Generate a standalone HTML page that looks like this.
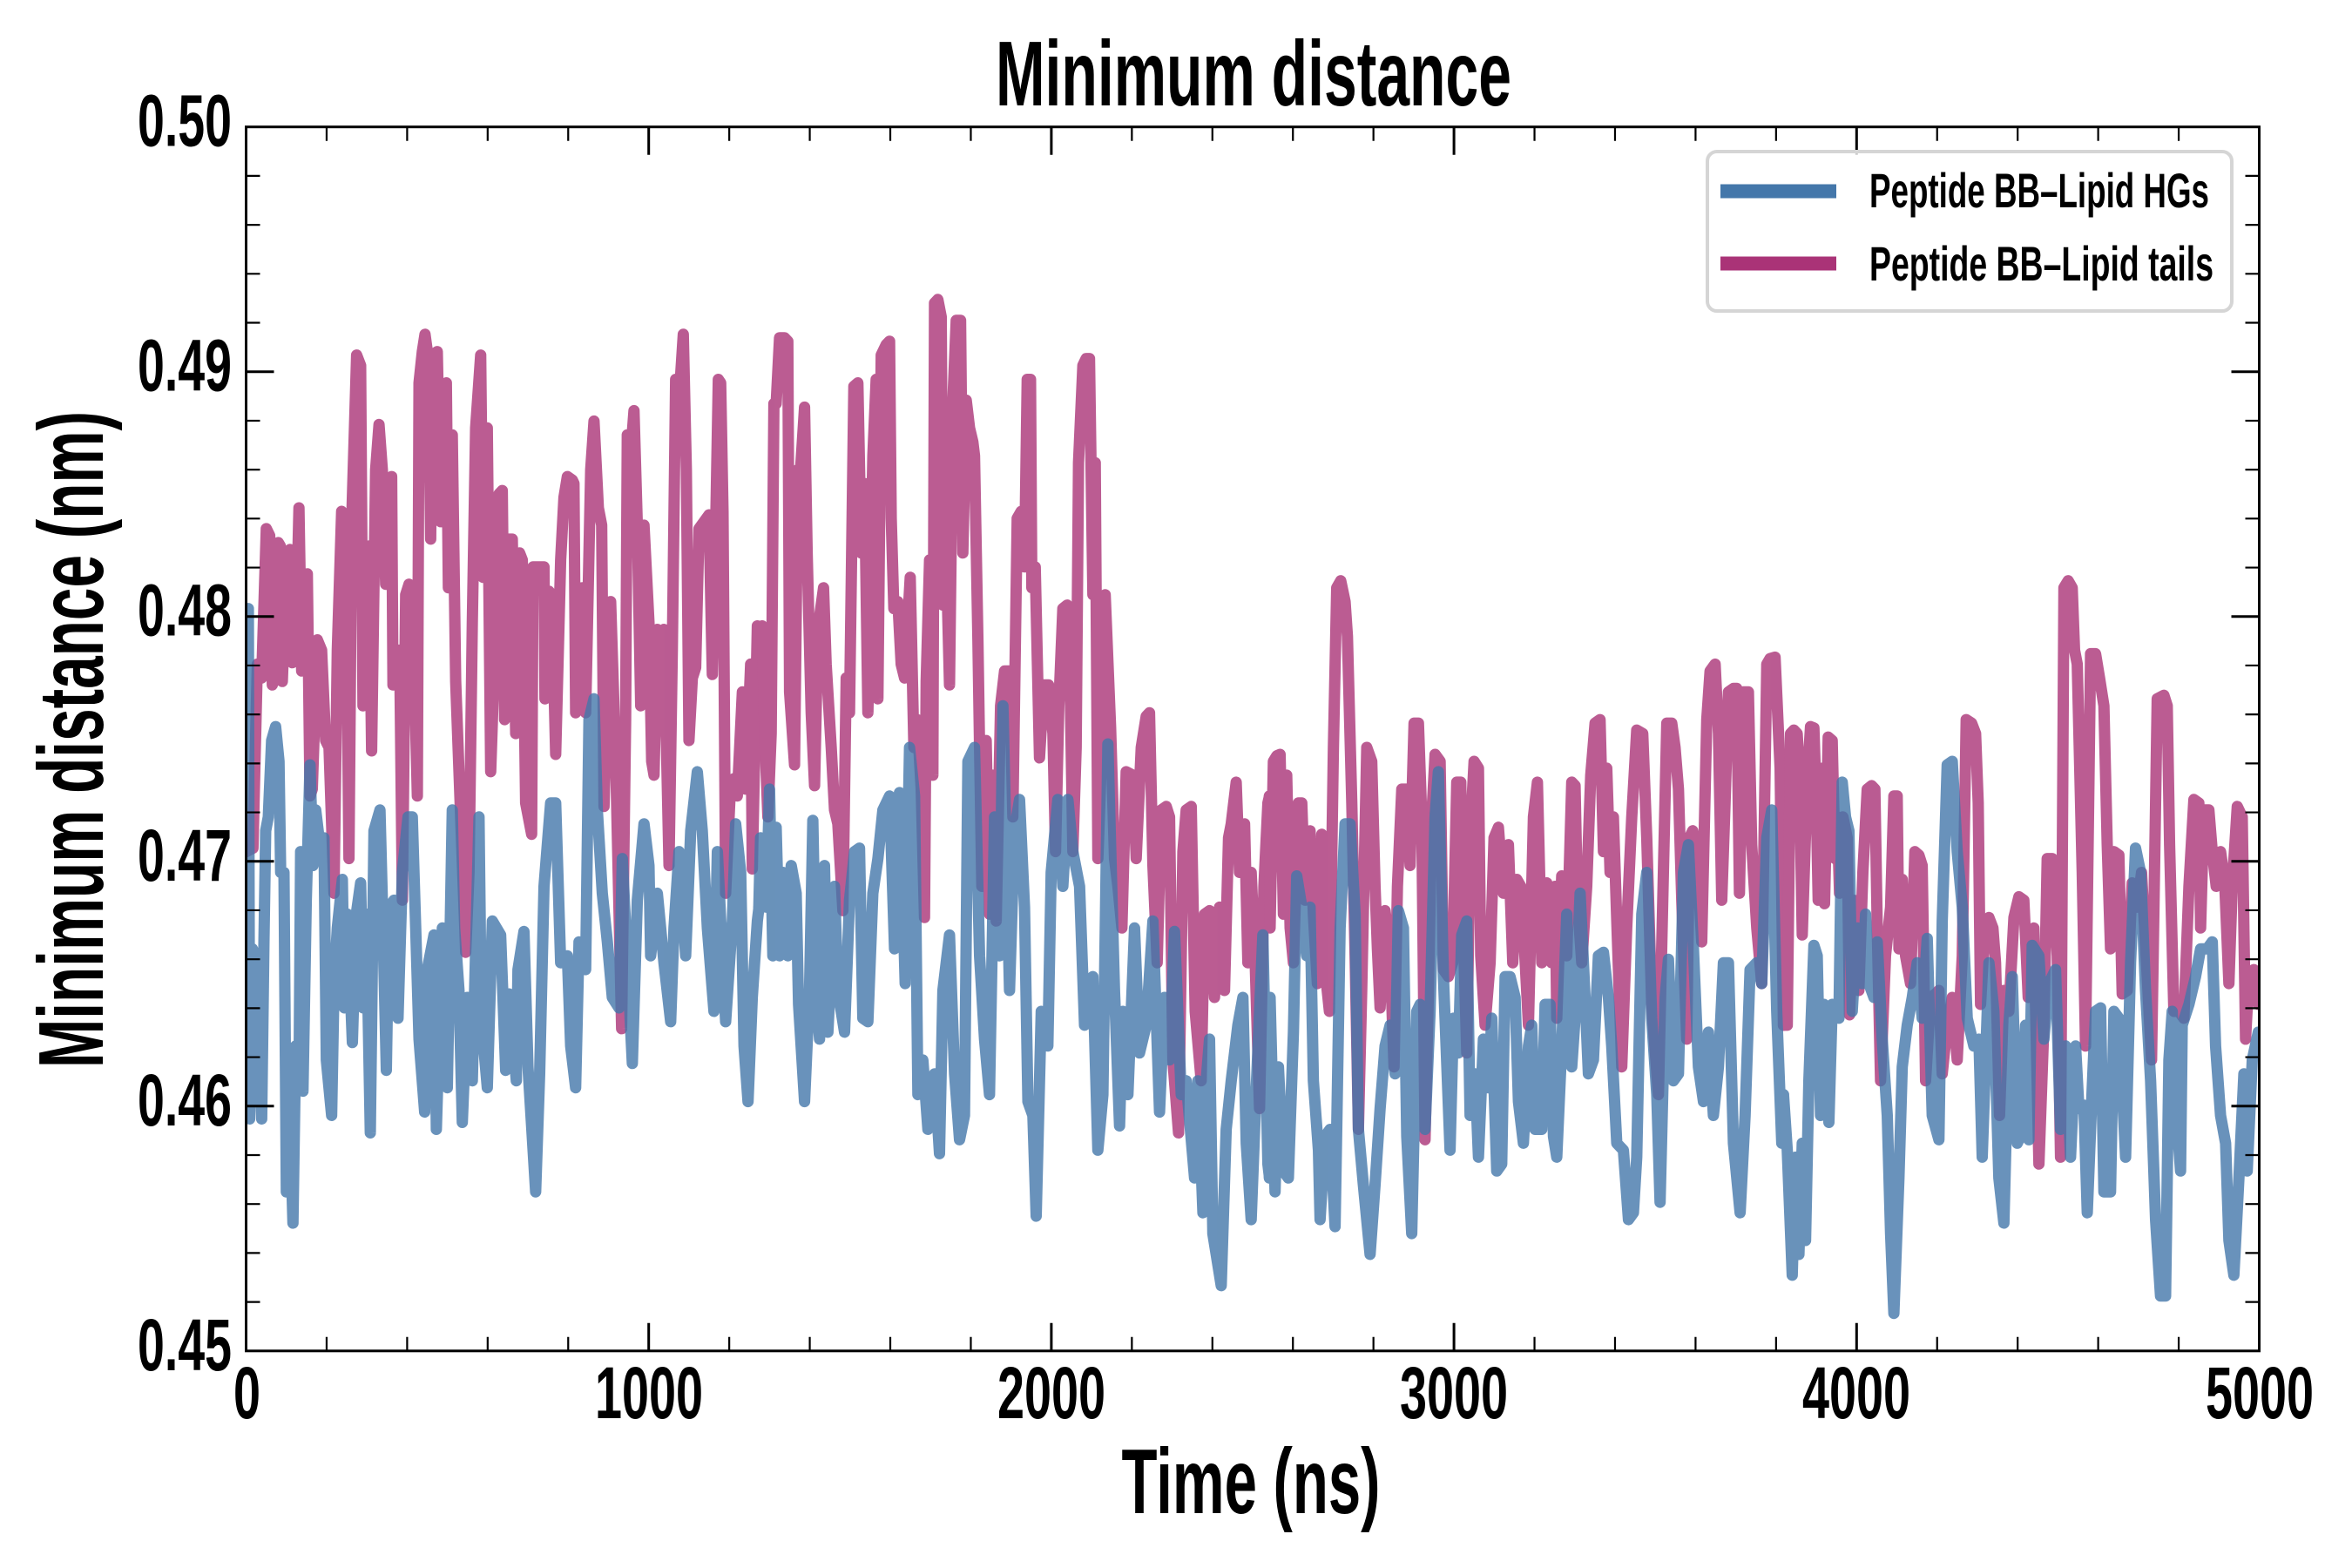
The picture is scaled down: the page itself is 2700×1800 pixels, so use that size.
<!DOCTYPE html>
<html>
<head>
<meta charset="utf-8">
<style>
html,body{margin:0;padding:0;background:#fff;}
svg{display:block;}
text{font-family:"Liberation Sans","DejaVu Sans",sans-serif;font-weight:bold;fill:#000;}
.pl{fill:none;stroke-width:13;stroke-linejoin:round;stroke-linecap:round;}
</style>
</head>
<body>
<svg id="chart" width="2700" height="1800" viewBox="0 0 2700 1800" xmlns="http://www.w3.org/2000/svg">
<rect x="0" y="0" width="2700" height="1800" fill="#fff"/>
<defs>
<clipPath id="ax"><rect x="282.5" y="145.7" width="2311" height="1405.1"/></clipPath>
</defs>

<g clip-path="url(#ax)">
<!-- Pink: Peptide BB-Lipid tails -->
<g opacity="0.8">
<g transform="translate(282,300) scale(0.38266,0.79719)">
<polyline class="pl" vector-effect="non-scaling-stroke" stroke="#AA3377" points="2,850 22,845 35,580 48,600 62,385 72,395 80,610 90,590 98,405 104,410 110,605 120,470 133,415 140,578 150,560 160,355 168,590 178,520 185,450 193,770 200,760 215,545 228,560 240,690 250,700 265,910 275,560 288,360 300,380 310,860 318,375 333,135 345,150 352,640 362,460 370,410 378,705 390,300 400,235 410,300 420,465 430,320 438,310 442,610 452,560 462,560 470,920 480,480 490,465 500,470 515,770 520,175 530,130 538,105 548,140 555,400 560,135 575,130 585,375 595,180 602,175 608,470 620,250 630,605 645,800 660,995 670,880 680,520 690,240 705,135 712,455 725,240 735,735 750,520 760,335 770,330 777,660 790,400 800,400 810,680 822,420 830,430 840,780 858,825 862,440 880,440 895,440 898,630 910,475 918,480 930,710 945,430 955,340 965,310 980,315 985,320 990,650 1000,500 1010,470 1020,650 1035,300 1045,230 1058,355 1068,380 1075,785 1085,590 1095,490 1110,720 1128,1105 1140,660 1145,250 1158,260 1165,215 1175,380 1185,640 1195,380 1210,520 1218,720 1225,740 1235,530 1245,560 1255,530 1270,870 1280,560 1290,170 1300,200 1313,105 1322,300 1330,690 1340,600 1350,585 1360,385 1375,375 1390,365 1400,595 1410,380 1418,170 1425,175 1432,360 1440,910 1455,750 1465,745 1475,770 1490,620 1500,760 1515,580 1520,875 1535,525 1540,530"/>
</g>
<g transform="translate(870,300) scale(0.38266,0.79719)">
<polyline class="pl" vector-effect="non-scaling-stroke" stroke="#AA3377" points="3,530 13,525 22,700 30,800 40,680 48,205 55,205 65,110 80,110 90,115 95,620 110,725 120,300 128,300 140,210 148,420 160,650 170,755 180,530 197,470 205,580 220,700 230,790 240,810 255,935 265,600 275,650 288,180 300,175 310,420 320,320 330,650 345,280 355,170 360,630 370,135 385,120 395,115 400,370 408,500 420,490 430,580 440,600 457,455 468,700 478,660 490,760 500,945 505,605 515,430 525,740 530,60 540,55 550,80 555,495 565,420 575,610 585,200 595,85 608,85 615,420 625,200 635,240 645,260 650,280 660,545 665,700 672,900 685,690 695,940 705,740 715,950 728,640 740,590 755,590 765,800 778,370 790,360 800,440 808,170 818,170 822,470 832,440 845,715 858,610 872,610 885,680 893,850 903,640 915,500 928,495 937,620 945,850 955,700 962,290 975,150 985,140 995,140 1005,480 1012,290 1020,860 1032,700 1042,480 1058,670 1070,860 1080,900 1092,960 1105,735 1125,740 1135,860 1150,700 1165,655 1175,650 1185,870 1198,1010 1210,790 1225,785 1235,800 1245,1150 1262,1255 1275,850 1285,790 1300,785 1312,1080 1330,1180 1340,940 1355,935 1370,1060 1385,930 1400,1050 1412,830 1420,810 1435,750 1445,880 1460,810 1470,1010 1480,880 1492,1010 1505,1220 1518,900 1530,780 1535,770"/>
</g>
<g transform="translate(1458,300) scale(0.38266,0.79719)">
<polyline class="pl" vector-effect="non-scaling-stroke" stroke="#AA3377" points="-2,770 0,960 10,720 20,712 30,710 40,940 50,740 60,960 70,1010 85,780 95,780 105,920 120,820 130,940 142,1040 155,825 165,1020 178,1080 190,700 200,470 212,460 225,490 232,540 245,780 255,1000 265,1250 275,1050 290,700 305,720 315,900 322,990 330,1075 345,935 360,1000 372,1160 382,900 395,760 410,760 420,870 432,665 445,665 455,800 465,1265 475,1050 485,800 495,710 510,720 520,1020 535,1030 548,1010 560,750 572,750 578,940 590,1140 600,830 612,720 625,730 632,1000 645,1100 660,1010 672,830 685,815 700,910 715,840 728,1010 740,890 752,900 760,960 775,1100 790,800 802,750 815,1010 830,895 845,1010 855,900 860,1090 875,885 890,1000 905,750 915,755 922,920 935,1010 950,900 962,740 975,665 990,660 1000,850 1010,730 1020,880 1030,800 1040,950 1055,1160 1070,960 1085,800 1100,675 1118,680 1130,830 1145,1070 1165,1200 1180,880 1190,665 1205,665 1215,700 1225,760 1235,920 1250,1120 1258,830 1268,820 1280,850 1295,980 1310,660 1320,590 1335,580 1345,680 1355,920 1365,780 1375,620 1390,615 1400,615 1408,910 1420,620 1435,620 1445,840 1460,960 1475,1040 1490,580 1500,572 1515,570 1530,730 1540,1100"/>
</g>
<g transform="translate(2000,300) scale(0.38266,0.79719)">
<polyline class="pl" vector-effect="non-scaling-stroke" stroke="#AA3377" points="124,1100 135,1100 145,680 155,675 165,680 172,740 180,970 195,750 205,670 215,672 222,780 228,920 240,730 247,925 258,685 270,690 278,860 285,800 292,910 302,800 315,830 322,1085 335,920 350,1050 362,880 375,760 388,755 398,760 405,960 415,1180 430,1000 445,930 455,770 465,770 470,990 480,890 490,1000 505,1040 518,850 530,855 540,870 550,1180 565,1060 580,1055 590,1050 600,1170 615,1100 630,1060 645,1150 660,1000 672,660 688,665 700,680 708,780 715,1070 728,960 740,945 752,960 760,1010 772,1230 785,1050 800,1080 815,945 830,915 845,920 858,1060 875,960 890,1300 905,1100 915,860 930,860 945,1000 955,1290 965,470 978,460 990,470 997,560 1005,580 1020,880 1030,1130 1045,565 1060,565 1072,600 1085,640 1095,840 1105,990 1115,850 1130,855 1140,1055 1155,1050 1170,895 1185,930 1198,880 1215,1030 1228,1150 1245,630 1265,625 1275,640 1282,840 1295,1080 1310,1080 1325,1090 1340,900 1355,775 1370,780 1375,960 1385,790 1400,790 1410,850 1422,900 1435,850 1447,890 1460,1040 1470,900 1485,785 1500,800 1510,1120 1520,1030 1535,1020 1548,1070"/>
</g>
</g>

<!-- Blue: Peptide BB-Lipid HGs -->
<g opacity="0.8">
<g transform="translate(282,300) scale(0.38266,0.79719)">
<polyline class="pl" vector-effect="non-scaling-stroke" stroke="#4477AA" points="1,500 8,500 12,1235 20,990 30,1000 48,1235 55,980 60,820 68,800 78,690 90,670 100,720 105,880 115,880 122,1340 132,1220 142,1385 150,1130 160,1190 165,850 172,1195 182,920 193,725 202,870 210,790 220,830 235,830 242,1150 258,1230 265,1045 275,960 290,890 296,1075 305,940 320,1125 332,940 345,895 352,1075 362,940 374,1255 385,820 403,790 410,920 422,1165 430,930 445,920 457,1090 470,880 487,800 500,800 510,960 520,1120 537,1225 545,1020 565,970 572,1250 590,960 605,1190 620,790 627,960 640,1050 650,1240 665,1060 680,1180 700,800 707,1090 725,1190 740,950 765,970 780,1165 790,1055 812,1180 817,1020 835,965 847,1160 870,1340 882,1170 895,900 915,780 930,780 945,1010 965,1000 975,1130 990,1190 1000,980 1020,1020 1030,660 1045,630 1055,790 1070,910 1085,980 1100,1060 1120,1075 1130,860 1160,1155 1175,920 1195,810 1210,870 1215,1000 1235,910 1255,1010 1275,1095 1285,960 1300,850 1320,1000 1335,820 1355,735 1370,820 1385,960 1405,1080 1415,850 1440,1095 1460,950 1470,810 1485,880 1495,1130 1507,1210 1520,1060 1535,950 1540,930"/>
</g>
<g transform="translate(870,300) scale(0.38266,0.79719)">
<polyline class="pl" vector-effect="non-scaling-stroke" stroke="#4477AA" points="3,930 8,830 25,930 35,760 45,1000 55,815 65,1000 75,880 90,1000 100,870 115,910 122,1070 140,1210 155,1050 165,805 175,1060 185,1120 200,870 210,1110 220,1010 230,900 240,1050 260,1110 275,920 290,850 305,845 315,1090 330,1095 345,910 360,860 375,790 395,770 410,990 425,765 432,870 442,1040 455,700 470,770 480,1200 495,1150 510,1250 530,1170 545,1285 555,1050 575,970 590,1170 605,1265 620,1230 630,720 650,700 665,1000 680,1120 695,1200 710,800 725,1000 735,640 745,850 755,1050 770,820 785,775 800,930 810,1210 825,1230 835,1375 850,1080 870,1130 880,880 900,775 915,900 930,775 945,850 965,900 980,1100 1005,1030 1020,1280 1035,1200 1050,695 1070,1050 1085,1245 1095,1080 1110,1200 1130,960 1145,1140 1165,1100 1185,950 1205,1225 1220,1060 1235,1150 1250,965 1270,1200 1285,1180 1310,1320 1320,1180 1335,1370 1345,1180 1355,1120 1365,1400 1390,1475 1405,1250 1420,1180 1440,1100 1455,1060 1465,1270 1480,1380 1495,1190 1515,970 1530,1300 1535,1320"/>
</g>
<g transform="translate(1458,300) scale(0.38266,0.79719)">
<polyline class="pl" vector-effect="non-scaling-stroke" stroke="#4477AA" points="-2,1320 0,1060 15,1340 25,1160 40,1310 55,1320 70,1110 80,885 95,930 110,1000 120,930 130,1180 145,1280 150,1380 165,1260 180,1250 195,1390 210,960 225,810 240,810 255,940 265,1250 280,1330 300,1430 315,1330 330,1220 345,1130 360,1100 375,1170 385,935 400,960 410,1260 425,1400 440,1080 450,1070 465,1250 480,1080 495,800 505,735 520,1030 540,1280 550,1090 565,1140 575,970 590,950 600,1230 615,1170 625,1290 640,1120 655,1190 665,1090 680,1310 695,1300 705,1030 720,1030 735,1060 745,1210 760,1270 775,1130 785,1100 795,1250 815,1250 825,1070 840,1070 850,1260 860,1290 875,1130 890,940 905,1160 915,1090 930,910 945,1060 955,1170 970,1150 985,1000 1000,995 1015,1060 1025,1130 1040,1270 1060,1280 1075,1380 1090,1370 1100,1290 1115,940 1130,880 1145,1090 1160,1200 1170,1355 1185,1060 1195,1005 1210,1180 1225,1170 1240,880 1255,840 1270,990 1285,1160 1300,1210 1315,1110 1330,1230 1345,1160 1360,1010 1375,1010 1390,1270 1410,1370 1425,1230 1440,1020 1460,1010 1475,1040 1490,830 1505,790 1520,1080 1535,1270 1540,1200"/>
</g>
<g transform="translate(2000,300) scale(0.38266,0.79719)">
<polyline class="pl" vector-effect="non-scaling-stroke" stroke="#4477AA" points="124,1200 135,1280 150,1460 160,1290 170,1430 180,1270 190,1410 200,1180 215,985 225,1000 235,1230 245,1070 260,1240 270,1070 290,1090 300,750 310,800 320,820 330,1080 345,960 360,1040 370,940 380,1040 395,1060 405,980 420,1120 435,1230 445,1400 455,1515 470,1320 480,1160 495,1100 510,1060 525,1010 540,1090 555,975 570,1230 590,1265 600,950 615,725 630,720 645,850 660,930 675,1090 695,1130 710,1120 720,1290 740,1010 755,1080 770,1320 785,1385 800,1100 810,1030 825,1270 835,1260 850,1100 860,1265 870,985 890,1000 905,1120 920,1040 940,1020 955,1250 970,1130 985,1290 1000,1130 1010,1220 1025,1215 1035,1370 1050,1190 1060,1080 1075,1075 1085,1340 1105,1340 1115,1080 1130,1090 1150,1290 1165,1010 1180,845 1195,880 1210,1050 1225,1180 1240,1380 1255,1490 1270,1490 1280,1150 1290,1080 1300,1210 1315,1310 1320,1100 1340,1070 1360,1030 1375,990 1395,990 1410,980 1420,1130 1435,1230 1450,1270 1460,1410 1475,1460 1490,1320 1505,1170 1515,1310 1530,1150 1548,1110"/>
</g>
</g>
</g>

<!-- Minor ticks -->
<path fill="none" stroke="#000" stroke-width="2.2" d="
M374.94 1550.8v-16M467.38 1550.8v-16M559.82 1550.8v-16M652.26 1550.8v-16M837.14 1550.8v-16M929.58 1550.8v-16M1022.02 1550.8v-16M1114.46 1550.8v-16M1299.34 1550.8v-16M1391.78 1550.8v-16M1484.22 1550.8v-16M1576.66 1550.8v-16M1761.54 1550.8v-16M1853.98 1550.8v-16M1946.42 1550.8v-16M2038.86 1550.8v-16M2223.74 1550.8v-16M2316.18 1550.8v-16M2408.62 1550.8v-16M2501.06 1550.8v-16
M374.94 145.7v16M467.38 145.7v16M559.82 145.7v16M652.26 145.7v16M837.14 145.7v16M929.58 145.7v16M1022.02 145.7v16M1114.46 145.7v16M1299.34 145.7v16M1391.78 145.7v16M1484.22 145.7v16M1576.66 145.7v16M1761.54 145.7v16M1853.98 145.7v16M1946.42 145.7v16M2038.86 145.7v16M2223.74 145.7v16M2316.18 145.7v16M2408.62 145.7v16M2501.06 145.7v16
M282.5 1494.6h16M282.5 1438.39h16M282.5 1382.19h16M282.5 1325.98h16M282.5 1213.58h16M282.5 1157.37h16M282.5 1101.17h16M282.5 1044.96h16M282.5 932.56h16M282.5 876.35h16M282.5 820.15h16M282.5 763.94h16M282.5 651.54h16M282.5 595.33h16M282.5 539.13h16M282.5 482.92h16M282.5 370.52h16M282.5 314.31h16M282.5 258.11h16M282.5 201.9h16
M2593.5 1494.6h-16M2593.5 1438.39h-16M2593.5 1382.19h-16M2593.5 1325.98h-16M2593.5 1213.58h-16M2593.5 1157.37h-16M2593.5 1101.17h-16M2593.5 1044.96h-16M2593.5 932.56h-16M2593.5 876.35h-16M2593.5 820.15h-16M2593.5 763.94h-16M2593.5 651.54h-16M2593.5 595.33h-16M2593.5 539.13h-16M2593.5 482.92h-16M2593.5 370.52h-16M2593.5 314.31h-16M2593.5 258.11h-16M2593.5 201.9h-16"/>

<!-- Major ticks -->
<path fill="none" stroke="#000" stroke-width="3" d="
M744.7 1550.8v-32M1206.9 1550.8v-32M1669.1 1550.8v-32M2131.3 1550.8v-32
M744.7 145.7v32M1206.9 145.7v32M1669.1 145.7v32M2131.3 145.7v32
M282.5 1269.78h32M282.5 988.76h32M282.5 707.74h32M282.5 426.72h32
M2593.5 1269.78h-32M2593.5 988.76h-32M2593.5 707.74h-32M2593.5 426.72h-32"/>

<!-- Spines -->
<rect x="282.5" y="145.7" width="2311" height="1405.1" fill="none" stroke="#000" stroke-width="3"/>

<!-- Y tick labels -->
<g font-size="84" text-anchor="end">
<text x="266" y="1572.8" textLength="108" lengthAdjust="spacingAndGlyphs">0.45</text>
<text x="266" y="1291.8" textLength="108" lengthAdjust="spacingAndGlyphs">0.46</text>
<text x="266" y="1010.8" textLength="108" lengthAdjust="spacingAndGlyphs">0.47</text>
<text x="266" y="729.7" textLength="108" lengthAdjust="spacingAndGlyphs">0.48</text>
<text x="266" y="448.7" textLength="108" lengthAdjust="spacingAndGlyphs">0.49</text>
<text x="266" y="167.7" textLength="108" lengthAdjust="spacingAndGlyphs">0.50</text>
</g>

<!-- X tick labels -->
<g font-size="84" text-anchor="middle">
<text x="283.5" y="1628" textLength="31" lengthAdjust="spacingAndGlyphs">0</text>
<text x="745" y="1628" textLength="124" lengthAdjust="spacingAndGlyphs">1000</text>
<text x="1207" y="1628" textLength="124" lengthAdjust="spacingAndGlyphs">2000</text>
<text x="1669" y="1628" textLength="124" lengthAdjust="spacingAndGlyphs">3000</text>
<text x="2131" y="1628" textLength="124" lengthAdjust="spacingAndGlyphs">4000</text>
<text x="2594" y="1628" textLength="124" lengthAdjust="spacingAndGlyphs">5000</text>
</g>

<!-- Title and axis labels -->
<text x="1439" y="121" font-size="106" text-anchor="middle" textLength="592" lengthAdjust="spacingAndGlyphs">Minimum distance</text>
<text x="1436" y="1737" font-size="106" text-anchor="middle" textLength="297" lengthAdjust="spacingAndGlyphs">Time (ns)</text>
<text transform="translate(118,849) rotate(-90)" x="0" y="0" font-size="106" text-anchor="middle" textLength="754" lengthAdjust="spacingAndGlyphs">Minimum distance (nm)</text>

<!-- Legend -->
<rect x="1960" y="174" width="602" height="183" rx="11" ry="11" fill="#fff" fill-opacity="0.8" stroke="#d5d5d5" stroke-width="4"/>
<line x1="1975" y1="219.5" x2="2108" y2="219.5" stroke="#4477AA" stroke-width="16"/>
<line x1="1975" y1="302.5" x2="2108" y2="302.5" stroke="#AA3377" stroke-width="16"/>
<text x="2146" y="238" font-size="56" textLength="390" lengthAdjust="spacingAndGlyphs">Peptide BB–Lipid HGs</text>
<text x="2146" y="322" font-size="56" textLength="395" lengthAdjust="spacingAndGlyphs">Peptide BB–Lipid tails</text>
</svg>
<script>
(function(){
  var pls = document.querySelectorAll('polyline.pl');
  for (var i = 0; i < pls.length; i++) {
    var p = pls[i];
    var g = p.parentNode;
    var tl = g.transform && g.transform.baseVal;
    if (!tl || tl.numberOfItems === 0) continue;
    var m = tl.consolidate().matrix;
    var pts = p.points;
    var out = [];
    for (var j = 0; j < pts.numberOfItems; j++) {
      var q = pts.getItem(j);
      out.push((m.a*q.x + m.c*q.y + m.e).toFixed(1) + ',' + (m.b*q.x + m.d*q.y + m.f).toFixed(1));
    }
    p.setAttribute('points', out.join(' '));
    p.removeAttribute('vector-effect');
    g.removeAttribute('transform');
  }
})();
</script>
</body>
</html>
